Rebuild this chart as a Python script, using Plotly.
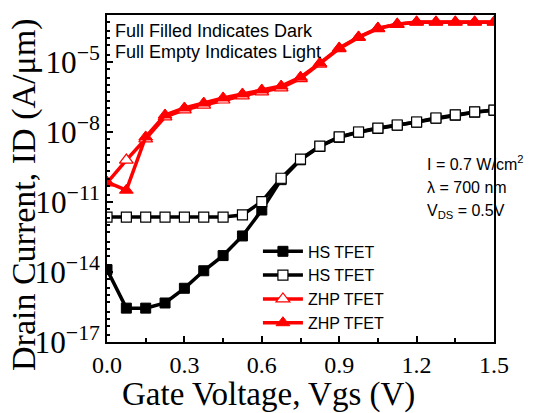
import plotly.graph_objects as go

vgs = [0.0, 0.075, 0.15, 0.225, 0.3, 0.375, 0.45, 0.525, 0.6, 0.675, 0.75,
       0.825, 0.9, 0.975, 1.05, 1.125, 1.2, 1.275, 1.35, 1.425, 1.5]

# log10 of drain current (A/um)
hs_dark_log = [-13.9, -15.55, -15.55, -15.33, -14.7, -13.95, -13.3, -12.46, -11.35, -10.05, -9.2,
               -8.63, -8.24, -8.02, -7.86, -7.72, -7.59, -7.42, -7.29, -7.16, -7.08]
hs_light_log = [-11.65, -11.65, -11.65, -11.65, -11.65, -11.65, -11.65, -11.56, -10.99, -9.99, -9.17,
                -8.61, -8.22, -8.01, -7.84, -7.71, -7.58, -7.41, -7.28, -7.15, -7.07]
zhp_light_log = [-10.19, -9.21, -8.3, -7.36, -7.06, -6.86, -6.64, -6.46, -6.29, -6.12, -5.72,
                 -5.1, -4.44, -3.96, -3.58, -3.4, -3.31, -3.31, -3.31, -3.31, -3.31]
zhp_dark_log = [-10.15, -10.5, -8.22, -7.28, -6.98, -6.77, -6.55, -6.38, -6.21, -6.04, -5.66,
                -5.06, -4.41, -3.94, -3.56, -3.39, -3.3, -3.3, -3.3, -3.3, -3.3]

hs_dark = [10 ** v for v in hs_dark_log]
hs_light = [10 ** v for v in hs_light_log]
zhp_light = [10 ** v for v in zhp_light_log]
zhp_dark = [10 ** v for v in zhp_dark_log]

names = ["HS TFET", "HS TFET", "ZHP TFET", "ZHP TFET"]
note_lines = ["Full Filled Indicates Dark", "Full Empty Indicates Light"]
cond_lines = ["I = 0.7 W/cm<sup>2</sup>", "λ = 700 nm", "V<sub>DS</sub> = 0.5V"]
x_title = "Gate Voltage, Vgs (V)"
y_title = "Drain Current, ID (A/μm)"

fig = go.Figure()
fig.add_trace(go.Scatter(x=vgs, y=hs_dark, name=names[0], mode="lines+markers",
                         line=dict(color="black", width=3.5),
                         marker=dict(symbol="square", size=10, color="black",
                                     line=dict(color="black", width=1))))
fig.add_trace(go.Scatter(x=vgs, y=hs_light, name=names[1], mode="lines+markers",
                         line=dict(color="black", width=3.5),
                         marker=dict(symbol="square", size=10, color="white",
                                     line=dict(color="black", width=1.2))))
fig.add_trace(go.Scatter(x=vgs, y=zhp_light, name=names[2], mode="lines+markers",
                         line=dict(color="red", width=3.5),
                         marker=dict(symbol="triangle-up", size=12, color="white",
                                     line=dict(color="red", width=1.2))))
fig.add_trace(go.Scatter(x=vgs, y=zhp_dark, name=names[3], mode="lines+markers",
                         line=dict(color="red", width=3.5),
                         marker=dict(symbol="triangle-up", size=12, color="red",
                                     line=dict(color="red", width=1))))

serif = "Liberation Serif, Times New Roman, serif"
sans = "Liberation Sans, Arial, sans-serif"

annotations = []
for i, t in enumerate(note_lines):
    annotations.append(dict(text=t, xref="paper", yref="paper",
                            x=(113 - 107) / 387, y=(342 - (31 + 21 * i)) / 327, xanchor="left",
                            yanchor="middle", showarrow=False,
                            font=dict(family=sans, size=18, color="black")))
for i, t in enumerate(cond_lines):
    annotations.append(dict(text=t, xref="paper", yref="paper",
                            x=(425 - 107) / 387, y=(342 - (163 + 24 * i)) / 327, xanchor="left",
                            yanchor="middle", showarrow=False,
                            font=dict(family=sans, size=16, color="black")))
annotations.append(dict(text=x_title, xref="paper", yref="paper", x=(268 - 107) / 387,
                        y=(342 - 394) / 327, xanchor="center", yanchor="middle", showarrow=False,
                        font=dict(family=serif, size=33, color="black")))
annotations.append(dict(text=y_title, xref="paper", yref="paper", x=(24 - 107) / 387,
                        y=(342 - 195) / 327, xanchor="center", yanchor="middle", showarrow=False,
                        textangle=-90, font=dict(family=serif, size=34, color="black")))

fig.update_layout(
    width=548, height=413,
    margin=dict(l=107, r=54, t=15, b=71),
    paper_bgcolor="white", plot_bgcolor="white",
    showlegend=True,
    legend=dict(x=0.39, y=0.329, xanchor="left", yanchor="top",
                bgcolor="rgba(0,0,0,0)", font=dict(family=sans, size=16, color="black"),
                itemwidth=40, tracegroupgap=0),
    xaxis=dict(range=[0, 1.5], dtick=0.3, tick0=0, tickformat=".1f",
               showline=True, linecolor="black", linewidth=2, mirror=True,
               ticks="inside", ticklen=6, tickwidth=2, tickcolor="black",
               minor=dict(dtick=0.15, ticks="inside", ticklen=4, tickwidth=1.5, tickcolor="black"),
               showgrid=False, zeroline=False,
               tickfont=dict(family=serif, size=24, color="black")),
    yaxis=dict(type="log", range=[-17, -3], dtick=3, tick0=-17, exponentformat="power",
               showline=True, linecolor="black", linewidth=2, mirror=True,
               ticks="inside", ticklen=6, tickwidth=2, tickcolor="black",
               minor=dict(dtick="D2", ticks="inside", ticklen=3, tickwidth=1.5, tickcolor="black"),
               showgrid=False, zeroline=False,
               tickfont=dict(family=serif, size=25, color="black")),
    annotations=annotations,
)

fig.write_html("out.html")
